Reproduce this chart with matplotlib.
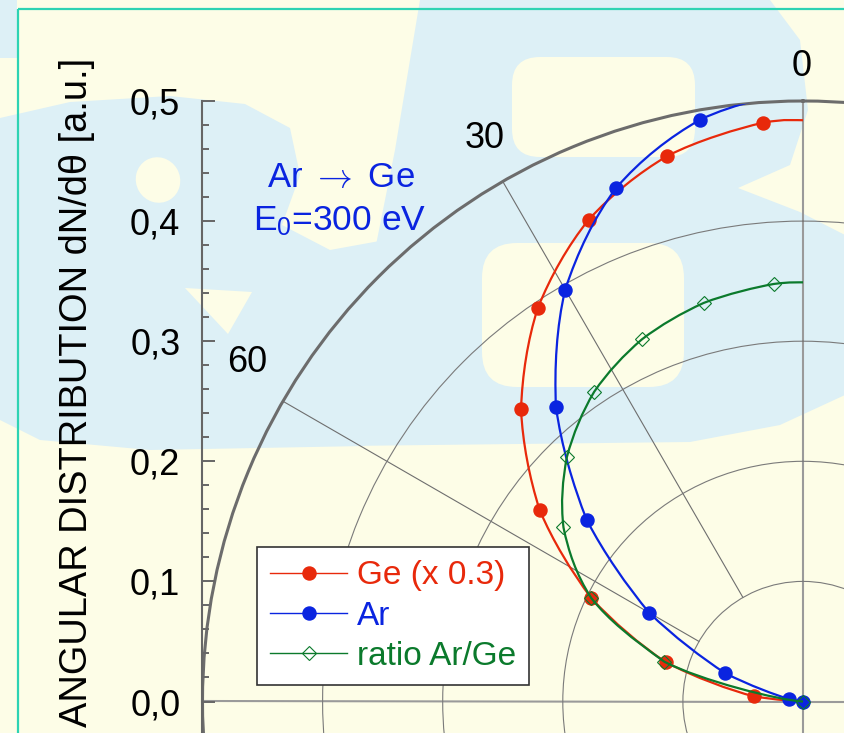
import numpy as np
import matplotlib
matplotlib.use("Agg")
import matplotlib.pyplot as plt
from matplotlib.lines import Line2D
from matplotlib.path import Path
from matplotlib.patches import Polygon, Ellipse, FancyBboxPatch, PathPatch
from matplotlib.ticker import FixedLocator, FuncFormatter

plt.rcParams['font.family'] = ['Liberation Sans', 'DejaVu Sans']
plt.rcParams['mathtext.fontset'] = 'custom'
plt.rcParams['mathtext.rm'] = 'Liberation Sans'
plt.rcParams['mathtext.it'] = 'Liberation Sans:italic'

# ---------------- data (angle in degrees from the surface normal) -------------
ge_theta = [4, 14, 24, 34, 44, 54, 64, 74, 84]
ge_r = [0.483, 0.468, 0.439, 0.395, 0.338, 0.271, 0.196, 0.119, 0.041]
ge_curve_ends = (0.484, 0.0)          # fitted curve value at 0 deg and 90 deg

ar_theta = [10, 20, 30, 40, 50, 60, 70, 80, 90]
ar_r = [0.492, 0.455, 0.396, 0.320, 0.235, 0.148, 0.069, 0.012, 0.0]
ar_curve_start = 0.51                 # fitted curve value at 0 deg (clipped)

ratio_theta = [4, 14, 24, 34, 44, 54, 64, 74, 90]
ratio_r = [0.3485, 0.342, 0.330, 0.311, 0.283, 0.2465, 0.196, 0.120, 0.0]
ratio_curve_start = 0.349

labels = ['Ge (x 0.3)', 'Ar', 'ratio Ar/Ge']
r_ticks = [0.0, 0.1, 0.2, 0.3, 0.4, 0.5]
r_minor = [0.02, 0.04, 0.06, 0.08, 0.12, 0.14, 0.16, 0.18, 0.22, 0.24, 0.26,
           0.28, 0.32, 0.34, 0.36, 0.38, 0.42, 0.44, 0.46, 0.48]
angle_labels = ['0', '30', '60']

RED = '#E8290B'
BLUE = '#0A24E0'
GREEN = '#0B7A2C'
YELLOW = '#FDFDE7'
WMBLUE = '#DDF0F6'

W, H = 845, 733
CX, CY = 803.0, 701.5          # pole position in pixels (from top-left)
RPX = 600.5                    # pixels for r = 0.5


def smooth_path(theta_deg, r):
    """Smooth (Catmull-Rom style Bezier) path through the given polar points."""
    p = np.column_stack([np.deg2rad(theta_deg), r])
    n = len(p)
    verts = [p[0]]
    codes = [Path.MOVETO]
    for i in range(n - 1):
        p0 = p[i - 1] if i > 0 else p[i]
        p1, p2 = p[i], p[i + 1]
        p3 = p[i + 2] if i + 2 < n else p[i + 1]
        verts += [p1 + (p2 - p0) / 6.0, p2 - (p3 - p1) / 6.0, p2]
        codes += [Path.CURVE4] * 3
    return Path(np.array(verts), codes)


fig = plt.figure(figsize=(W / 100, H / 100), dpi=100, facecolor=YELLOW)

# ---------------- background watermark and frame ----------------------------
bg = fig.add_axes([0, 0, 1, 1], zorder=-5)
bg.set_xlim(0, W)
bg.set_ylim(H, 0)
bg.axis('off')
bg.patch.set_visible(False)
# "B"
bg.add_patch(Polygon([(420, 0), (770, 0), (800, 40), (808, 110), (790, 165),
                      (738, 188), (800, 212), (845, 235), (845, 395),
                      (780, 425), (690, 442), (345, 446), (365, 300),
                      (395, 150)], closed=True, fc=WMBLUE, ec='none'))
bg.add_patch(FancyBboxPatch((522, 67), 163, 80, boxstyle='round,pad=10,rounding_size=28',
                            fc=YELLOW, ec='none'))
bg.add_patch(FancyBboxPatch((492, 253), 182, 124, boxstyle='round,pad=10,rounding_size=35',
                            fc=YELLOW, ec='none'))
# "&"
bg.add_patch(Polygon([(0, 118), (70, 102), (170, 96), (245, 104), (290, 128),
                      (300, 175), (282, 225), (330, 250), (385, 240), (365, 446),
                      (150, 450), (40, 440), (0, 420)], closed=True, fc=WMBLUE, ec='none'))
bg.add_patch(Ellipse((158, 180), 44, 46, angle=-30, fc=YELLOW, ec='none'))
bg.add_patch(Polygon([(185, 288), (252, 292), (228, 334)], closed=True, fc=YELLOW,
                     ec='none'))
bg.add_patch(Polygon([(0, 0), (17, 0), (17, 58), (0, 58)], closed=True, fc=WMBLUE, ec='none'))
bg.plot([18, W], [9, 9], color='#2DD3B3', lw=1.6, solid_capstyle='butt')
bg.plot([18, 18], [9, H], color='#2DD3B3', lw=1.6, solid_capstyle='butt')

# ---------------- polar axes -------------------------------------------------
ax = fig.add_axes([(CX - RPX) / W, (H - CY - RPX) / H, 2 * RPX / W, 2 * RPX / H],
                  projection='polar', zorder=0)
ax.set_theta_zero_location('N')
ax.set_theta_direction(1)
ax.set_ylim(0, 0.5)
ax.set_facecolor('none')
ax.set_yticks([0.1, 0.2, 0.3, 0.4])
ax.set_yticklabels([])
ax.set_xticks(np.deg2rad([0, 90, 180, 270]))
ax.set_xticklabels([])
ax.yaxis.grid(True, color='#7a7a7a', lw=0.8)
ax.xaxis.grid(True, color='#9a9a9a', lw=1.5)
ax.tick_params(axis='x', length=0)
ax.spines['polar'].set_color('#6c6c6c')
ax.spines['polar'].set_linewidth(2.2)
for a in (30, 60):
    ax.plot(np.deg2rad([a, a]), [0.1, 0.5], color='#6e6e6e', lw=0.8, zorder=1)

# angle labels
for lab, th, rr in zip(angle_labels, [0.1, 29.9, 59.3], [0.521, 0.5315, 0.538]):
    ax.text(np.deg2rad(th), rr, lab, ha='center', va='baseline', fontsize=26,
            color='black', clip_on=False)

ms_dot = 9.4
ax.add_patch(PathPatch(smooth_path([0] + ge_theta + [90],
                                   [ge_curve_ends[0]] + ge_r + [ge_curve_ends[1]]),
                       fill=False, edgecolor=RED, lw=1.6, zorder=3))
ax.plot(np.deg2rad(ge_theta), ge_r, ls='none', marker='o', ms=ms_dot, color=RED,
        mec=RED, zorder=3)
ax.add_patch(PathPatch(smooth_path([0] + ar_theta, [ar_curve_start] + ar_r),
                       fill=False, edgecolor=BLUE, lw=1.6, zorder=4))
ax.plot(np.deg2rad(ar_theta), ar_r, ls='none', marker='o', ms=ms_dot, color=BLUE,
        mec=BLUE, zorder=4)
ax.add_patch(PathPatch(smooth_path([0] + ratio_theta, [ratio_curve_start] + ratio_r),
                       fill=False, edgecolor=GREEN, lw=1.6, zorder=5))
ax.plot(np.deg2rad(ratio_theta), ratio_r, ls='none', marker='D', ms=7.2, mfc='none',
        mec=GREEN, mew=0.8, zorder=5)

# legend
handles = [Line2D([], [], color=RED, lw=1.0, marker='o', ms=ms_dot, mec=RED),
           Line2D([], [], color=BLUE, lw=1.0, marker='o', ms=ms_dot, mec=BLUE),
           Line2D([], [], color=GREEN, lw=1.0, marker='D', ms=7.2, mfc='none', mec=GREEN,
                  mew=0.8)]
leg = ax.legend(handles, labels, loc='upper left', bbox_to_anchor=(257 / W, 1 - 547 / H),
                bbox_transform=fig.transFigure, frameon=True, fancybox=False,
                edgecolor='#333333', facecolor='white', framealpha=1,
                prop={'size': 24}, handlelength=2.3, handletextpad=0.3,
                borderpad=0.4, labelspacing=0.28, borderaxespad=0, numpoints=1)
leg.get_frame().set_linewidth(1.2)
leg.set_zorder(10)
for t, c in zip(leg.get_texts(), [RED, BLUE, GREEN]):
    t.set_color(c)

# ---------------- left value axis ---------------------------------------------
ax2 = fig.add_axes([(CX - RPX) / W, 0, 0.05, (H - (CY - RPX)) / H], zorder=1)
ax2.set_ylim(-(H - CY) / (RPX / 0.5), 0.5)
ax2.patch.set_visible(False)
for s in ['top', 'right', 'bottom']:
    ax2.spines[s].set_visible(False)
ax2.spines['left'].set_color('#666666')
ax2.spines['left'].set_linewidth(1.5)
ax2.set_xticks([])
ax2.yaxis.set_major_locator(FixedLocator(r_ticks))
ax2.yaxis.set_minor_locator(FixedLocator(r_minor))
ax2.yaxis.set_major_formatter(FuncFormatter(lambda v, p: f"{v:.1f}".replace('.', ',')))
ax2.tick_params(axis='y', which='major', direction='in', length=9.4, width=1.4,
                color='#666666', pad=16, labelsize=26)
ax2.tick_params(axis='y', which='minor', direction='in', length=5, width=1.4,
                color='#666666')

# ---------------- texts -------------------------------------------------------
fig.text(77 / W, 1 - 392 / H, 'ANGULAR DISTRIBUTION dN/dθ [a.u.]', rotation=90,
         ha='center', va='center', fontsize=27.4, color='black')
fig.text(341 / W, 1 - 187 / H, r'Ar $\rightarrow$ Ge', ha='center', va='baseline',
         fontsize=25, color=BLUE, math_fontfamily='cm')
fig.text(340 / W, 1 - 230 / H, r'E$_{\mathrm{0}}$=300 eV', ha='center', va='baseline',
         fontsize=25.5, color=BLUE)

fig.savefig('out.png', dpi=100, facecolor=YELLOW)
